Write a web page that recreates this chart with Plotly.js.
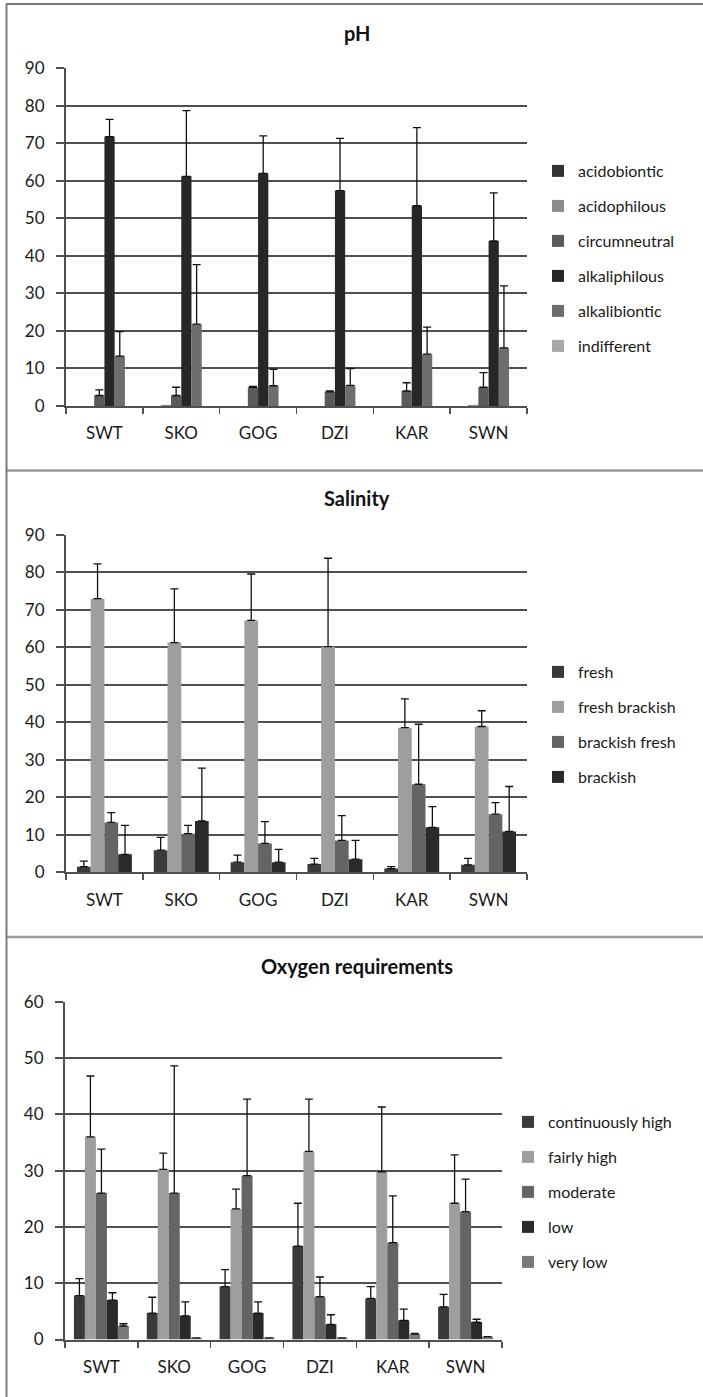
<!DOCTYPE html>
<html>
<head>
<meta charset="utf-8">
<script src="https://cdn.plot.ly/plotly-3.0.1.min.js"></script>
<style>html,body{margin:0;padding:0;background:#fff;}#chart{width:703px;height:1397px;}</style>
</head>
<body>
<div id="chart"></div>
<script>
// ---------- DATA ----------
const sites = ["SWT", "SKO", "GOG", "DZI", "KAR", "SWN"];

// pH
const phNames = ["acidobiontic", "acidophilous", "circumneutral", "alkaliphilous", "alkalibiontic", "indifferent"];
const phAcidobiontic = [0, 0, 0, 0, 0, 0];
const phAcidophilous = [0, 0.3, 0, 0, 0, 0.3];
const phCircumneutral = [2.8, 2.8, 5.0, 3.8, 4.0, 5.0];
const phCircumneutralErr = [1.5, 2.2, 0.2, 0.2, 2.2, 3.9];
const phAlkaliphilous = [71.8, 61.2, 62.0, 57.4, 53.4, 44.0];
const phAlkaliphilousErr = [4.6, 17.5, 10.0, 13.9, 20.8, 12.8];
const phAlkalibiontic = [13.3, 21.8, 5.4, 5.5, 13.8, 15.5];
const phAlkalibionticErr = [6.5, 15.9, 4.4, 4.5, 7.2, 16.5];
const phIndifferent = [0, 0, 0, 0, 0, 0];

// Salinity
const salNames = ["fresh", "fresh brackish", "brackish fresh", "brackish"];
const salFresh = [1.5, 5.9, 2.7, 2.2, 1.0, 2.0];
const salFreshErr = [1.5, 3.4, 1.9, 1.5, 0.5, 1.7];
const salFreshBrackish = [73.0, 61.3, 67.2, 60.2, 38.6, 38.9];
const salFreshBrackishErr = [9.3, 14.3, 12.4, 23.6, 7.7, 4.2];
const salBrackishFresh = [13.3, 10.3, 7.7, 8.5, 23.5, 15.5];
const salBrackishFreshErr = [2.6, 2.2, 5.8, 6.6, 16.0, 3.1];
const salBrackish = [4.8, 13.7, 2.7, 3.5, 12.0, 10.9];
const salBrackishErr = [7.7, 14.1, 3.4, 5.0, 5.5, 12.0];

// Oxygen requirements
const oxNames = ["continuously high", "fairly high", "moderate", "low", "very low"];
const oxContHigh = [7.8, 4.7, 9.4, 16.6, 7.3, 5.8];
const oxContHighErr = [3.0, 2.8, 3.0, 7.6, 2.1, 2.2];
const oxFairlyHigh = [36.0, 30.2, 23.2, 33.4, 29.8, 24.2];
const oxFairlyHighErr = [10.8, 2.9, 3.5, 9.3, 11.5, 8.6];
const oxModerate = [26.0, 26.0, 29.1, 7.6, 17.2, 22.7];
const oxModerateErr = [7.8, 22.6, 13.6, 3.5, 8.3, 5.8];
const oxLow = [7.0, 4.2, 4.7, 2.7, 3.4, 3.1];
const oxLowErr = [1.3, 2.5, 2.0, 1.7, 2.0, 0.5];
const oxVeryLow = [2.4, 0.3, 0.3, 0.3, 0.95, 0.5];
const oxVeryLowErr = [0.4, null, null, null, 0.15, null];

// ---------- STYLE ----------
const W = 703, H = 1397;
const FONT = "Lato, 'Open Sans', sans-serif";
const phColors = ["#333333", "#8c8c8c", "#5a5a5a", "#272727", "#6e6e6e", "#a8a8a8"];
const salColors = ["#3a3a3a", "#9e9e9e", "#646464", "#2a2a2a"];
const oxColors = ["#3a3a3a", "#9e9e9e", "#646464", "#2a2a2a", "#7a7a7a"];

function px2x(p) { return p / W; }
function px2y(p) { return (H - p) / H; }

// groupFrac: fraction of category width covered by the whole group of bars
function bar(name, y, err, color, xa, ya, leg, idx, n, groupFrac) {
  const w = groupFrac / n;
  const t = {
    type: "bar", name: name, x: sites, y: y,
    width: w, offset: -groupFrac / 2 + idx * w,
    marker: { color: color, line: { width: 0 } },
    xaxis: xa, yaxis: ya, legend: leg, legendgroup: leg + "_" + idx,
    hoverinfo: "skip"
  };
  if (err) {
    t.error_y = {
      type: "data", symmetric: false, array: err,
      arrayminus: err.map(() => 0), color: "#111111", thickness: 1.3, width: 4
    };
  }
  return t;
}

const data = [];
const phVals = [phAcidobiontic, phAcidophilous, phCircumneutral, phAlkaliphilous, phAlkalibiontic, phIndifferent];
const phErrs = [null, null, phCircumneutralErr, phAlkaliphilousErr, phAlkalibionticErr, null];
phNames.forEach((n, i) => data.push(bar(n, phVals[i], phErrs[i], phColors[i], "x", "y", "legend", i, 6, 0.8)));

const salVals = [salFresh, salFreshBrackish, salBrackishFresh, salBrackish];
const salErrs = [salFreshErr, salFreshBrackishErr, salBrackishFreshErr, salBrackishErr];
salNames.forEach((n, i) => data.push(bar(n, salVals[i], salErrs[i], salColors[i], "x2", "y2", "legend2", i, 4, 0.715)));

const oxVals = [oxContHigh, oxFairlyHigh, oxModerate, oxLow, oxVeryLow];
const oxErrs = [oxContHighErr, oxFairlyHighErr, oxModerateErr, oxLowErr, oxVeryLowErr];
oxNames.forEach((n, i) => data.push(bar(n, oxVals[i], oxErrs[i], oxColors[i], "x3", "y3", "legend3", i, 5, 0.755)));

function xaxis(domain, anchor) {
  return {
    domain: domain, anchor: anchor, type: "category", categoryorder: "array", categoryarray: sites,
    range: [-0.5, sites.length - 0.5],
    showline: true, linecolor: "#505050", linewidth: 2, showgrid: false, zeroline: false,
    ticks: "outside", tickson: "boundaries", ticklen: 6, tickwidth: 1.5, tickcolor: "#505050",
    ticklabelstandoff: 11, tickfont: { family: FONT, size: 17, color: "#1a1a1a" }, fixedrange: true
  };
}
function yaxis(domain, anchor, max) {
  return {
    domain: domain, anchor: anchor, range: [0, max], dtick: 10, tick0: 0,
    showline: true, linecolor: "#505050", linewidth: 2, showgrid: true, gridcolor: "#505050", gridwidth: 2,
    zeroline: false, ticks: "outside", ticklen: 8, tickwidth: 2, tickcolor: "#505050",
    ticklabelstandoff: 8, tickfont: { family: FONT, size: 17, color: "#1a1a1a" }, fixedrange: true
  };
}
function legend(textLeftPx, firstCenterPx) {
  return {
    x: px2x(textLeftPx - 40), xanchor: "left",
    y: px2y(firstCenterPx - 17), yanchor: "top",
    font: { family: FONT, size: 16, color: "#1a1a1a" },
    tracegroupgap: 11.2, bgcolor: "rgba(0,0,0,0)", borderwidth: 0, traceorder: "grouped"
  };
}
function title(text, yPx) {
  return {
    text: "<b>" + text + "</b>", xref: "paper", yref: "paper", x: px2x(357), y: px2y(yPx),
    xanchor: "center", yanchor: "middle", showarrow: false,
    font: { family: FONT, size: 20, color: "#111111" }
  };
}
function hline(yPx, color, w) {
  return { type: "line", xref: "paper", yref: "paper", x0: px2x(6), x1: 1, y0: px2y(yPx), y1: px2y(yPx),
           line: { color: color, width: w } };
}

const layout = {
  width: W, height: H, autosize: false,
  margin: { l: 0, r: 0, t: 0, b: 0, pad: 0 },
  paper_bgcolor: "#ffffff", plot_bgcolor: "rgba(0,0,0,0)",
  barmode: "overlay",
  showlegend: true,
  xaxis: xaxis([px2x(66), px2x(527)], "y"),
  yaxis: yaxis([px2y(406), px2y(68.3)], "x", 90),
  xaxis2: xaxis([px2x(66), px2x(527)], "y2"),
  yaxis2: yaxis([px2y(872.3), px2y(535)], "x2", 90),
  xaxis3: xaxis([px2x(65), px2x(502)], "y3"),
  yaxis3: yaxis([px2y(1339.5), px2y(1001.7)], "x3", 60),
  legend: legend(578, 171),
  legend2: legend(578, 672),
  legend3: legend(548, 1122),
  annotations: [title("pH", 33), title("Salinity", 498), title("Oxygen requirements", 966)],
  shapes: [
    hline(4, "#7a7a7a", 2),
    hline(470.5, "#9a9a9a", 2.5),
    hline(937, "#9a9a9a", 2.5),
    { type: "line", xref: "paper", yref: "paper", x0: px2x(6.5), x1: px2x(6.5), y0: 0, y1: px2y(4),
      line: { color: "#7a7a7a", width: 2 } }
  ]
};

Plotly.newPlot("chart", data, layout, { staticPlot: true, displayModeBar: false });
</script>
</body>
</html>
